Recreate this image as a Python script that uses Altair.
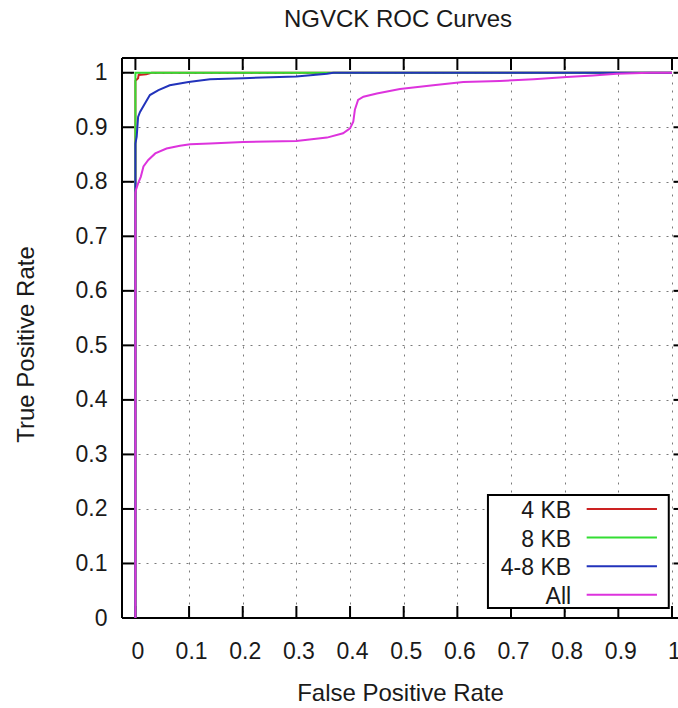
import altair as alt
import pandas as pd

# ---------------- data ----------------
title_text = "NGVCK ROC Curves"
x_title = "False Positive Rate"
y_title = "True Positive Rate"

series_names = ["4 KB", "8 KB", "4-8 KB", "All"]
series_colors = ["#cc2222", "#33dd33", "#2233bb", "#dd33dd"]

fpr_4kb = [0.0, 0.0, 0.005, 0.006, 0.02, 0.03, 1.0]
tpr_4kb = [0.0, 0.985, 0.99, 0.996, 0.997, 1.0, 1.0]

fpr_8kb = [0.0, 0.0, 1.0]
tpr_8kb = [0.0, 1.0, 1.0]

fpr_48kb = [0.0, 0.0, 0.0024, 0.005, 0.0086, 0.018, 0.027, 0.043, 0.064, 0.099,
            0.139, 0.201, 0.30, 0.357, 0.369, 1.0]
tpr_48kb = [0.0, 0.87, 0.883, 0.919, 0.928, 0.944, 0.959, 0.968, 0.977, 0.983,
            0.988, 0.990, 0.993, 0.998, 1.0, 1.0]

fpr_all = [0.0, 0.0, 0.001, 0.005, 0.01, 0.015, 0.024, 0.037, 0.058, 0.083, 0.102,
           0.139, 0.201, 0.30, 0.357, 0.387, 0.40, 0.406, 0.409, 0.415, 0.425,
           0.45, 0.493, 0.555, 0.611, 0.679, 0.742, 0.804, 0.853, 0.897, 0.959, 1.0]
tpr_all = [0.0, 0.78, 0.785, 0.797, 0.809, 0.828, 0.840, 0.852, 0.861, 0.866, 0.869,
           0.870, 0.873, 0.875, 0.881, 0.889, 0.898, 0.910, 0.932, 0.950, 0.956,
           0.962, 0.970, 0.977, 0.983, 0.985, 0.988, 0.992, 0.995, 0.998, 1.0, 1.0]

x_ticks = [0, 0.1, 0.2, 0.3, 0.4, 0.5, 0.6, 0.7, 0.8, 0.9, 1]
y_ticks = [0, 0.1, 0.2, 0.3, 0.4, 0.5, 0.6, 0.7, 0.8, 0.9, 1]

# ---------------- layout / style ----------------
FONT = "Liberation Sans"
TXT = "#1a1a1a"
W, H = 556, 560
X_DOMAIN = [-0.025, 1.0112]
Y_DOMAIN = [0.0, 1.027]
TICK = 12

xs = alt.Scale(domain=X_DOMAIN, nice=False, zero=False)
ys = alt.Scale(domain=Y_DOMAIN, nice=False, zero=False)

x_axis = alt.Axis(
    values=x_ticks, format="~g", grid=True, gridDash=[2, 6], gridColor="#7a7a7a",
    gridWidth=1, ticks=False, tickSize=0, domain=False,
    labelFont=FONT, labelFontSize=23, labelColor=TXT, labelPadding=40,
    labelBaseline="alphabetic", labelOverlap=False, labelFlush=False, labelOffset=2,
    title=x_title, titleFont=FONT, titleFontSize=24, titleFontWeight="normal",
    titleColor=TXT, titleBaseline="alphabetic", titleY=82,
)
y_axis = alt.Axis(
    values=y_ticks, format="~g", grid=True, gridDash=[2, 6], gridColor="#7a7a7a",
    gridWidth=1, ticks=False, tickSize=0, domain=False,
    labelFont=FONT, labelFontSize=23, labelColor=TXT, labelPadding=15,
    labelBaseline="middle", labelAlign="right", labelOverlap=False, labelFlush=False,
    title=y_title, titleFont=FONT, titleFontSize=24, titleFontWeight="normal",
    titleColor=TXT, titleBaseline="alphabetic", titleAlign="center", titleAngle=270,
    titleX=-89, titleY=286,
)


def X(field):
    return alt.X(field, scale=xs, axis=x_axis)


def Y(field):
    return alt.Y(field, scale=ys, axis=y_axis)


one = pd.DataFrame({"a": [0]})

# frame (top, bottom, left) -- the right edge lies outside the picture
frame_top = alt.Chart(one).mark_rule(color="black", strokeWidth=2).encode(
    x=alt.value(0), x2=alt.value(W), y=alt.value(0))
frame_bottom = alt.Chart(one).mark_rule(color="black", strokeWidth=2).encode(
    x=alt.value(0), x2=alt.value(W), y=alt.value(H))
frame_left = alt.Chart(one).mark_rule(color="black", strokeWidth=2).encode(
    x=alt.value(0), y=alt.value(0), y2=alt.value(H))

xt = pd.DataFrame({"v": x_ticks})
yt = pd.DataFrame({"v": y_ticks})
tick_bottom = alt.Chart(xt).mark_rule(color="black", strokeWidth=2).encode(
    x=X("v:Q"), y=alt.value(H), y2=alt.value(H - TICK))
tick_top = alt.Chart(xt).mark_rule(color="black", strokeWidth=2).encode(
    x=X("v:Q"), y=alt.value(0), y2=alt.value(TICK))
tick_left = alt.Chart(yt).mark_rule(color="black", strokeWidth=2).encode(
    y=Y("v:Q"), x=alt.value(0), x2=alt.value(TICK))
tick_right = alt.Chart(yt).mark_rule(color="black", strokeWidth=2).encode(
    y=Y("v:Q"), x=alt.value(563.5 - TICK), x2=alt.value(563.5))

# curves
series_x = [fpr_4kb, fpr_8kb, fpr_48kb, fpr_all]
series_y = [tpr_4kb, tpr_8kb, tpr_48kb, tpr_all]
curve_layers = []
for name, col, fx, ty in zip(series_names, series_colors, series_x, series_y):
    df = pd.DataFrame({"fpr": fx, "tpr": ty, "ord": list(range(len(fx))), "series": name})
    layer = alt.Chart(df).mark_line(color=col, strokeWidth=2).encode(
        x=X("fpr:Q"), y=Y("tpr:Q"), order="ord:Q")
    curve_layers.append(layer)

# legend (drawn in data coordinates through the scales)
LEG_BOX = {"x": 0.657, "x2": 0.994, "y": 0.0183, "y2": 0.2256}
LEG_ROW0, LEG_STEP = 0.1999, 0.0524
LEG_LABEL_X, LEG_SAMPLE_X, LEG_SAMPLE_X2, LEG_BASE_DY = 0.812, 0.841, 0.972, 0.0165

leg_box = alt.Chart(pd.DataFrame([LEG_BOX])).mark_rect(
    fill="white", stroke="black", strokeWidth=2).encode(
    x=X("x:Q"), x2="x2:Q", y=Y("y:Q"), y2="y2:Q")

leg_df = pd.DataFrame({
    "name": series_names,
    "ys": [LEG_ROW0 - k * LEG_STEP for k in range(len(series_names))],
})
leg_df["yt"] = leg_df["ys"] - LEG_BASE_DY
leg_df["lx"] = LEG_LABEL_X
leg_df["sx"] = LEG_SAMPLE_X
leg_df["sx2"] = LEG_SAMPLE_X2

leg_text = alt.Chart(leg_df).mark_text(
    align="right", baseline="alphabetic", font=FONT, fontSize=23, color=TXT).encode(
    x=X("lx:Q"), y=Y("yt:Q"), text="name:N")
leg_lines = alt.Chart(leg_df).mark_rule(strokeWidth=2).encode(
    x=X("sx:Q"), x2="sx2:Q", y=Y("ys:Q"),
    color=alt.Color("name:N", scale=alt.Scale(domain=series_names, range=series_colors),
                    legend=None))

chart = alt.layer(
    frame_top, frame_bottom, frame_left,
    tick_bottom, tick_top, tick_left, tick_right,
    *curve_layers,
    leg_box, leg_lines, leg_text,
).properties(
    width=W, height=H,
    autosize=alt.AutoSizeParams(type="none"),
    padding={"left": 122, "top": 58, "right": 0, "bottom": 90},
    background="white",
    title=alt.TitleParams(
        text=title_text, font=FONT, fontSize=24, fontWeight="normal", color=TXT,
        anchor="middle", frame="group", baseline="alphabetic", offset=6, dx=-2),
).configure_view(stroke=None)

chart.save("out.html", embed_options={"renderer": "svg", "actions": False})
